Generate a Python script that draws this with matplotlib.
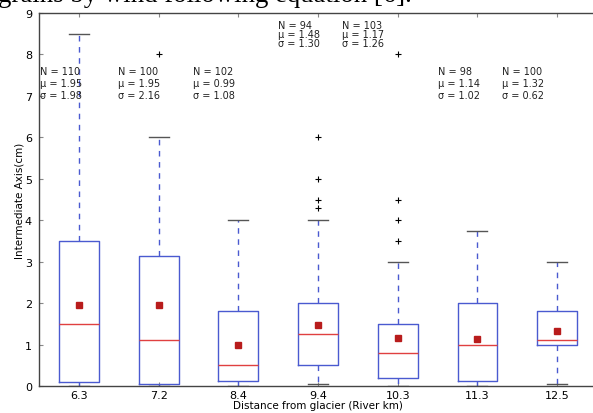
import matplotlib
matplotlib.use("Agg")
import matplotlib.pyplot as plt

# Data
positions_labels = ["6.3", "7.2", "8.4", "9.4", "10.3", "11.3", "12.5"]
q1 = [0.10, 0.05, 0.11, 0.50, 0.19, 0.13, 1.00]
med = [1.50, 1.10, 0.50, 1.25, 0.80, 1.00, 1.10]
q3 = [3.50, 3.13, 1.80, 2.00, 1.50, 2.00, 1.80]
whislo = [0.0, 0.0, 0.0, 0.05, 0.0, 0.0, 0.05]
whishi = [8.5, 6.0, 4.0, 4.0, 3.0, 3.75, 3.0]
means = [1.95, 1.95, 0.99, 1.48, 1.17, 1.14, 1.32]
fliers = [[], [8.0], [], [6.0, 5.0, 4.5, 4.3], [8.0, 4.5, 4.0, 3.5], [], []]
n_vals = [110, 100, 102, 94, 103, 98, 100]
sd_vals = [1.98, 2.16, 1.08, 1.30, 1.26, 1.02, 0.62]
ann_x = [0.51, 1.49, 2.43, 3.50, 4.30, 5.50, 6.31]
ann_y = [7.72, 7.72, 7.72, 8.82, 8.82, 7.72, 7.72]
ann_ls = [1.25, 1.25, 1.25, 0.85, 0.85, 1.25, 1.25]

fig = plt.figure(figsize=(5.93, 4.14), dpi=100)
ax = fig.add_axes([39/593, 27/414, 558/593, 373/414])

stats = []
for i in range(len(positions_labels)):
    stats.append(dict(q1=q1[i], med=med[i], q3=q3[i], whislo=whislo[i],
                      whishi=whishi[i], fliers=fliers[i], mean=means[i]))

box_c = "#4a5ad0"
ax.bxp(stats, positions=range(1, 8), widths=0.5, showmeans=True,
       boxprops=dict(color=box_c, lw=1.0),
       whiskerprops=dict(color=box_c, lw=1.0, ls=(0, (4, 4))),
       capprops=dict(color="#555555", lw=1.0),
       medianprops=dict(color="#e04040", lw=1.0),
       meanprops=dict(marker="s", markerfacecolor="#b81c1c",
                      markeredgecolor="#b81c1c", markersize=4.5),
       flierprops=dict(marker="+", markeredgecolor="black", markersize=4,
                       markeredgewidth=0.8, linestyle="none"))

ax.set_xlim(0.5, 7.5)
ax.set_ylim(0, 9)
ax.set_yticks(range(0, 10))
ax.set_xticks(range(1, 8))
ax.set_xticklabels(positions_labels)
ax.tick_params(direction="in", top=True, right=True, labelsize=8,
               length=3, color="#888888", pad=3)
ax.tick_params(axis="y", pad=5)
for s in ax.spines.values():
    s.set_color("#444444")
    s.set_linewidth(1.0)

ax.set_xlabel("Distance from glacier (River km)", fontsize=7.5, labelpad=0)
ax.set_ylabel("Intermediate Axis(cm)", fontsize=7.5, labelpad=0)

for i in range(len(n_vals)):
    txt = "N = %d\n\u03bc = %.2f\n\u03c3 = %.2f" % (n_vals[i], means[i], sd_vals[i])
    ax.text(ann_x[i], ann_y[i], txt, fontsize=7, va="top", ha="left",
            linespacing=ann_ls[i], color="#222222")

fig.text(-0.004, 0.994, "grains by wind following equation [6].",
         fontsize=19.3, family="Liberation Serif", ha="left", va="baseline")

fig.savefig("out.png", dpi=100)
